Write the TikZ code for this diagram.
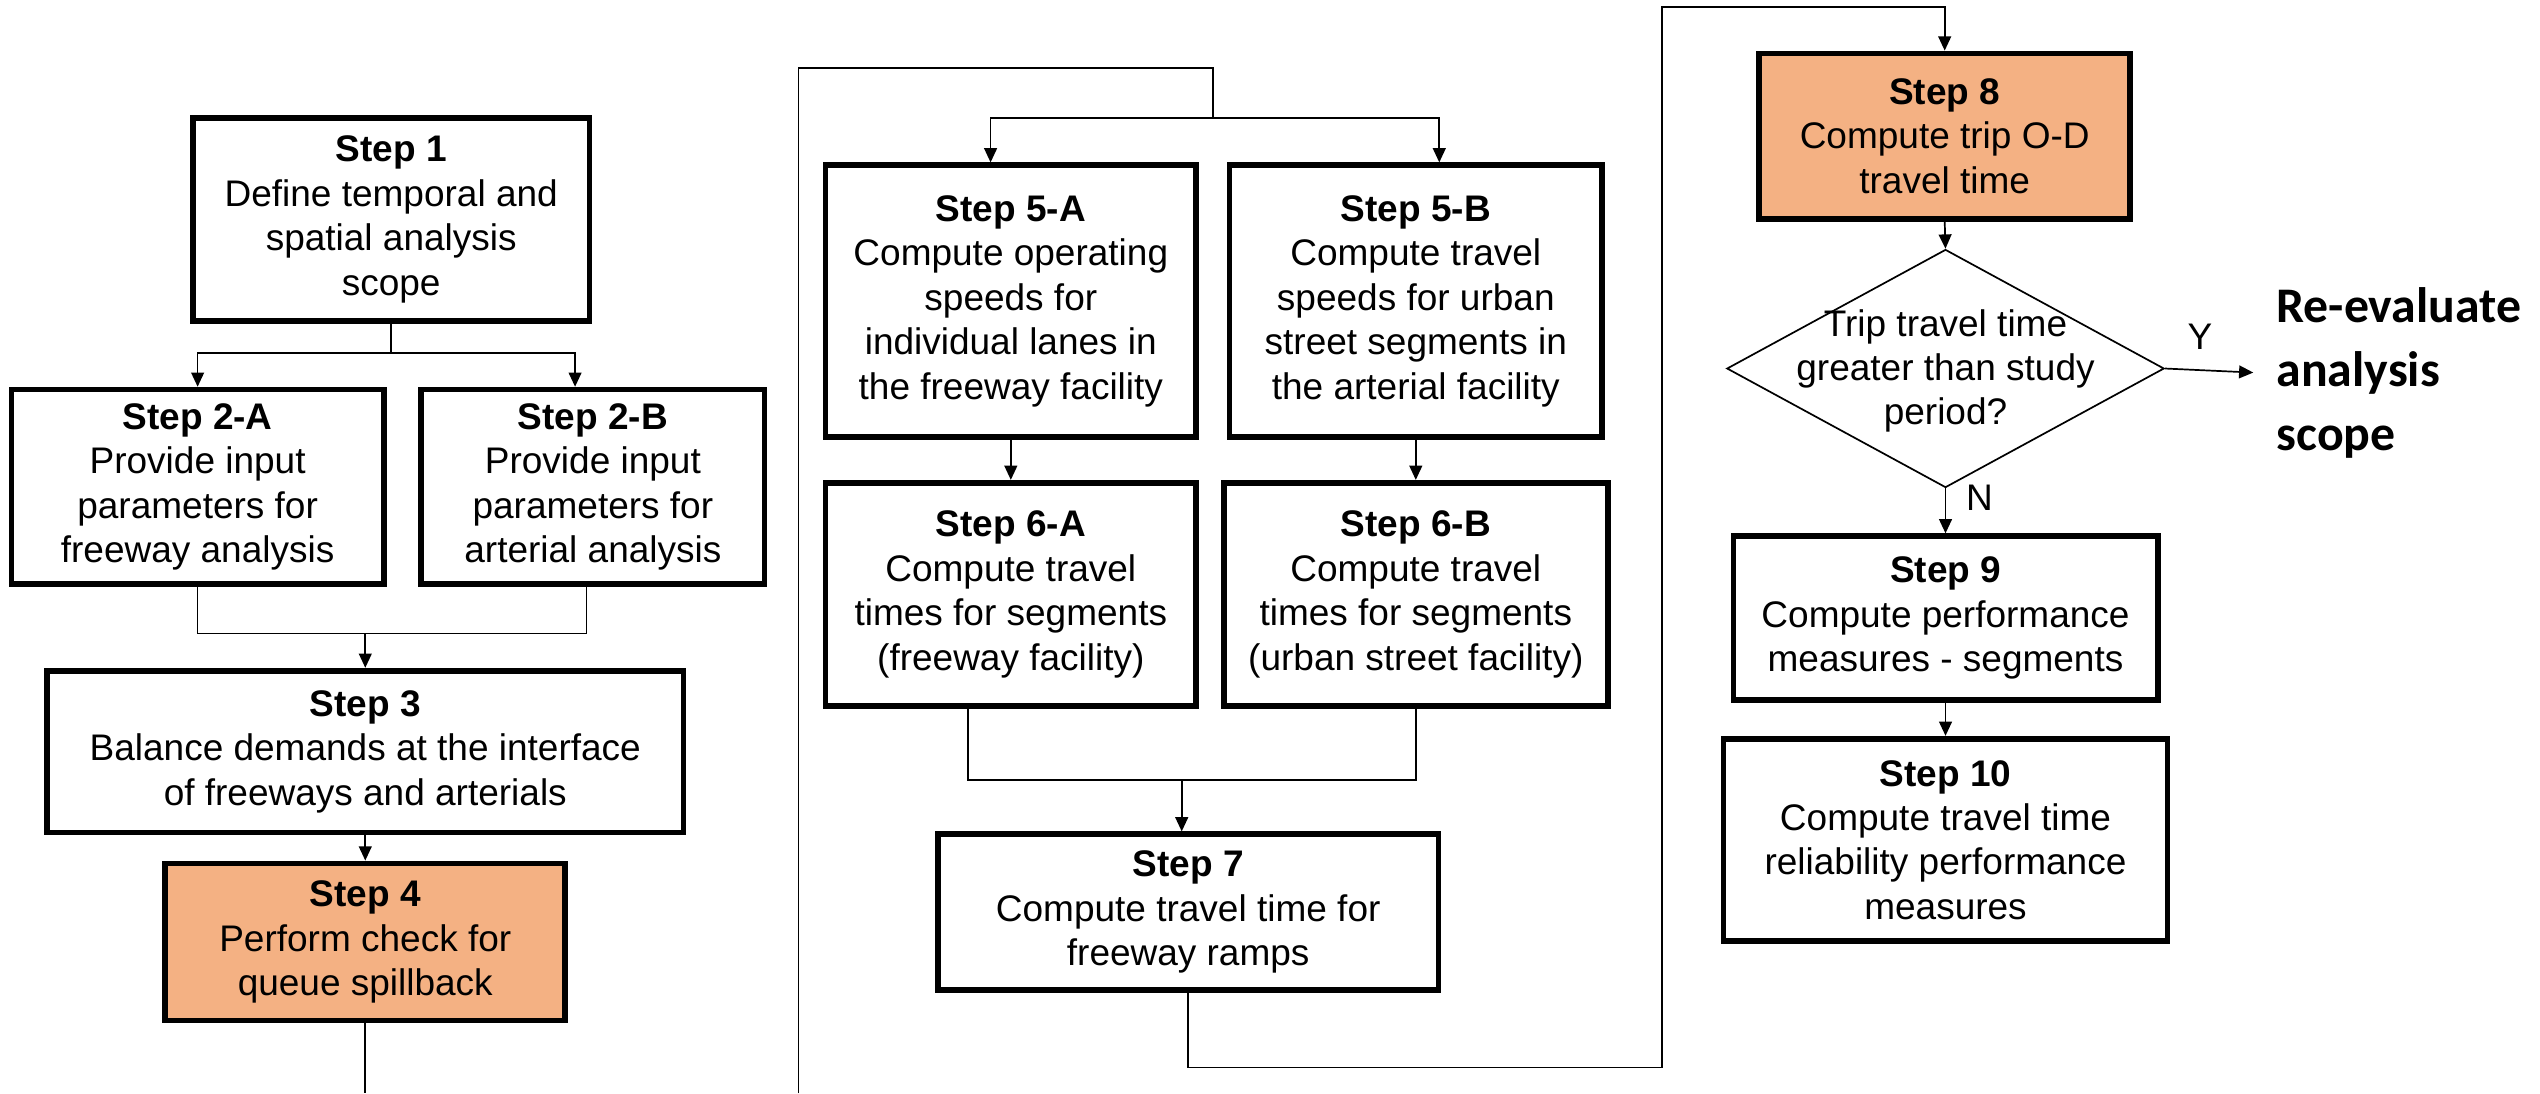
\documentclass[tikz,border=0pt]{standalone}
\usepackage{fontspec}
\setmainfont{Liberation Sans}
\newfontfamily\calibri{Carlito}
\usetikzlibrary{arrows.meta}
\usetikzlibrary{shapes.geometric}
\definecolor{step orange}{RGB}{244,177,131}

\begin{document}
\begin{tikzpicture}[x=0.02cm, y=-0.02cm,
					step box/.style={draw, line width=2pt, fill=white, align=center, inner sep=0pt, font=\fontsize{13}{15.6}\selectfont},
					decision/.style={draw, line width=0.6pt, diamond, inner sep=0pt, minimum width=5.4cm, minimum height=2.94cm},
					flow line/.style={line width=0.6pt},
					flow arrow/.style={line width=0.6pt, -{Triangle[length=5pt,width=4.5pt]}},
					flow label/.style={font=\fontsize{13}{15.6}\selectfont},
				]
					\useasboundingbox (0,0) rectangle (1568,675);

					% left column
					\node[step box, minimum width=4.9cm, minimum height=2.5cm] (s1) at (241.5,135.5) {\textbf{Step 1}\\Define temporal and\\spatial analysis\\scope};
					\node[step box, minimum width=4.6cm, minimum height=2.4cm] (s2a) at (122,300.5) {\textbf{Step 2-A}\\Provide input\\parameters for\\freeway analysis};
					\node[step box, minimum width=4.24cm, minimum height=2.4cm] (s2b) at (366,300.5) {\textbf{Step 2-B}\\Provide input\\parameters for\\arterial analysis};
					\node[step box, minimum width=7.86cm, minimum height=2cm] (s3) at (225.5,464) {\textbf{Step 3}\\Balance demands at the interface\\of freeways and arterials};
					\node[step box, fill=step orange, minimum width=4.94cm, minimum height=1.94cm] (s4) at (225.5,581.5) {\textbf{Step 4}\\Perform check for\\queue spillback};

					% middle column
					\node[step box, minimum width=4.58cm, minimum height=3.36cm] (s5a) at (624,186) {\textbf{Step 5-A}\\Compute operating\\speeds for\\individual lanes in\\the freeway facility};
					\node[step box, minimum width=4.6cm, minimum height=3.36cm] (s5b) at (874,186) {\textbf{Step 5-B}\\Compute travel\\speeds for urban\\street segments in\\the arterial facility};
					\node[step box, minimum width=4.58cm, minimum height=2.76cm] (s6a) at (624,367) {\textbf{Step 6-A}\\Compute travel\\times for segments\\(freeway facility)};
					\node[step box, minimum width=4.74cm, minimum height=2.76cm] (s6b) at (874,367) {\textbf{Step 6-B}\\Compute travel\\times for segments\\(urban street facility)};
					\node[step box, minimum width=6.18cm, minimum height=1.92cm] (s7) at (733.5,563) {\textbf{Step 7}\\Compute travel time for\\freeway ramps};

					% right column
					\node[step box, fill=step orange, minimum width=4.58cm, minimum height=2.04cm] (s8) at (1200.5,84) {\textbf{Step 8}\\Compute trip O-D\\travel time};
					\node[decision] (dec) at (1201,227.5) {};
					\node[flow label, align=center] (dectext) at (1201,229) {Trip travel time\\greater than study\\period?};
					\node[step box, minimum width=5.24cm, minimum height=2.02cm] (s9) at (1201,381.5) {\textbf{Step 9}\\Compute performance\\measures - segments};
					\node[step box, minimum width=5.48cm, minimum height=2.5cm] (s10) at (1201,518.5) {\textbf{Step 10}\\Compute travel time\\reliability performance\\measures};
					\node[font=\calibri\bfseries\fontsize{17.5}{22.5}\selectfont, align=left, anchor=west, inner xsep=0.28cm] (reval) at (1391,230) {Re-evaluate\\analysis\\scope};
					\node[flow label] (ylab) at (1358,208) {Y};
					\node[flow label] (nlab) at (1222,307) {N};

					% bend points
					\coordinate (j2) at (225.5,391);
					\coordinate (lo1) at (225.5,675);
					\coordinate (lo2) at (493,675);
					\coordinate (top5) at (749,42);
					\coordinate (b5) at (749,73);
					\coordinate (j6) at (729.5,481.5);
					\coordinate (lo3) at (1026,659);
					\coordinate (top8) at (1200.5,4.5);

					% connectors
					\draw[flow line] (s1.south) -- ++(0,18) coordinate (b1);
					\draw[flow arrow] (b1) -| (s2a.north);
					\draw[flow arrow] (b1) -| ([xshift=-0.22cm]s2b.north);
					\draw[flow line] (s2a.south) |- (j2) -| ([xshift=-0.08cm]s2b.south);
					\draw[flow arrow] (j2) -- (s3.north);
					\draw[flow arrow] (s3.south) -- (s4.north);
					\draw[flow line] (s4.south) -- (lo1);
					\draw[flow line] (lo2) |- (top5) -- (b5);
					\draw[flow arrow] (b5) -| ([xshift=-0.25cm]s5a.north);
					\draw[flow arrow] (b5) -| ([xshift=0.29cm]s5b.north);
					\draw[flow arrow] (s5a.south) -- (s6a.north);
					\draw[flow arrow] (s5b.south) -- (s6b.north);
					\draw[flow line] ([xshift=-0.53cm]s6a.south) |- (j6) -| (s6b.south);
					\draw[flow arrow] (j6) -- (j6 |- s7.north);
					\draw[flow arrow] (s7.south) |- (lo3) |- (top8) -- (s8.north);
					\draw[flow arrow] (s8.south) -- (dec.north);
					\draw[flow arrow] (dec.east) -- (reval.west);
					\draw[flow arrow] (dec.south) -- (s9.north);
					\draw[flow arrow] (s9.south) -- (s10.north);
				\end{tikzpicture}
\end{document}
